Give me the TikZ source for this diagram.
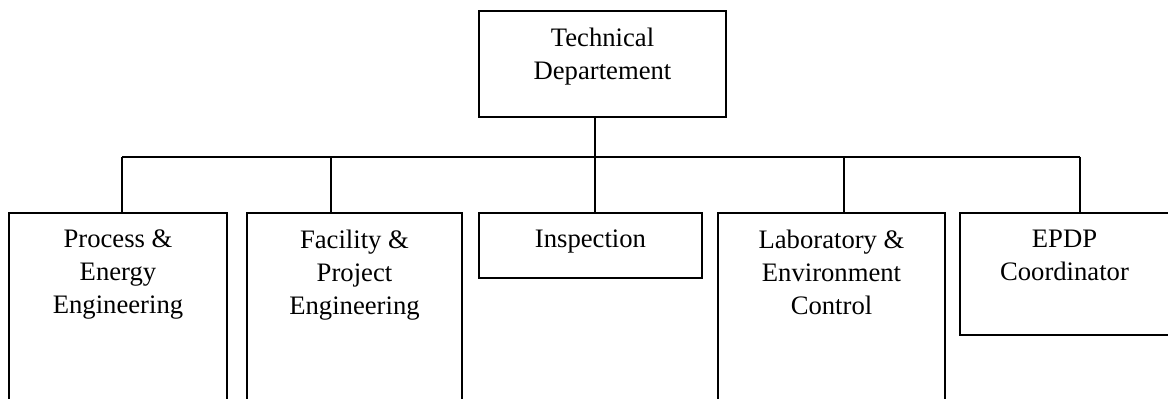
\documentclass[tikz,border=0pt]{standalone}
\usepackage{fontspec}
\setmainfont{Liberation Serif}
\begin{document}
\begin{tikzpicture}[x=0.75pt,y=-0.75pt,
  box/.style={draw=black, line width=1.4pt, rectangle, inner sep=0pt, anchor=north},
  lbl/.style={anchor=north, inner sep=0pt, align=center, font=\fontsize{20}{24.75}\selectfont},
  conn/.style={draw=black, line width=1.2pt}]
\useasboundingbox (0,0) rectangle (1168,399);
\clip (0,0) rectangle (1168,399);
% boxes
\node[box, minimum width=247*0.75pt, minimum height=106*0.75pt] (top) at (602.5,10) {};
\node[box, minimum width=218*0.75pt, minimum height=220*0.75pt] (b1) at (118,212) {};
\node[box, minimum width=215*0.75pt, minimum height=220*0.75pt] (b2) at (354.5,212) {};
\node[box, minimum width=223*0.75pt, minimum height=65*0.75pt] (b3) at (590.5,212) {};
\node[box, minimum width=227*0.75pt, minimum height=220*0.75pt] (b4) at (831.5,212) {};
\node[box, minimum width=209*0.75pt, minimum height=122*0.75pt] (b5) at (1064.5,212) {};
% labels
\node[lbl] (ttop) at ([yshift=-17.5*0.75pt]top.north) {Technical\\Departement};
\node[lbl] (t1) at ([yshift=-17.5*0.75pt]b1.north) {Process \&\\Energy\\Engineering};
\node[lbl] (t2) at ([yshift=-17.5*0.75pt]b2.north) {Facility \&\\Project\\Engineering};
\node[lbl] (t3) at ([yshift=-17.5*0.75pt]b3.north) {Inspection};
\node[lbl] (t4) at ([yshift=-17.5*0.75pt]b4.north) {Laboratory \&\\Environment\\Control};
\node[lbl] (t5) at ([yshift=-17.5*0.75pt]b5.north) {EPDP\\Coordinator};
% junctions on the bus
\coordinate (j0) at (595,157);
\coordinate (j1) at (122,157);
\coordinate (j2) at (331,157);
\coordinate (j3) at (595,157);
\coordinate (j4) at (844,157);
\coordinate (j5) at (1080,157);
% connectors
\draw[conn] (j1) -- (j5);
\draw[conn] (top.south -| j0) -- (j0);
\draw[conn] (j1) -- (j1 |- b1.north);
\draw[conn] (j2) -- (j2 |- b2.north);
\draw[conn] (j3) -- (j3 |- b3.north);
\draw[conn] (j4) -- (j4 |- b4.north);
\draw[conn] (j5) -- (j5 |- b5.north);
\end{tikzpicture}
\end{document}
